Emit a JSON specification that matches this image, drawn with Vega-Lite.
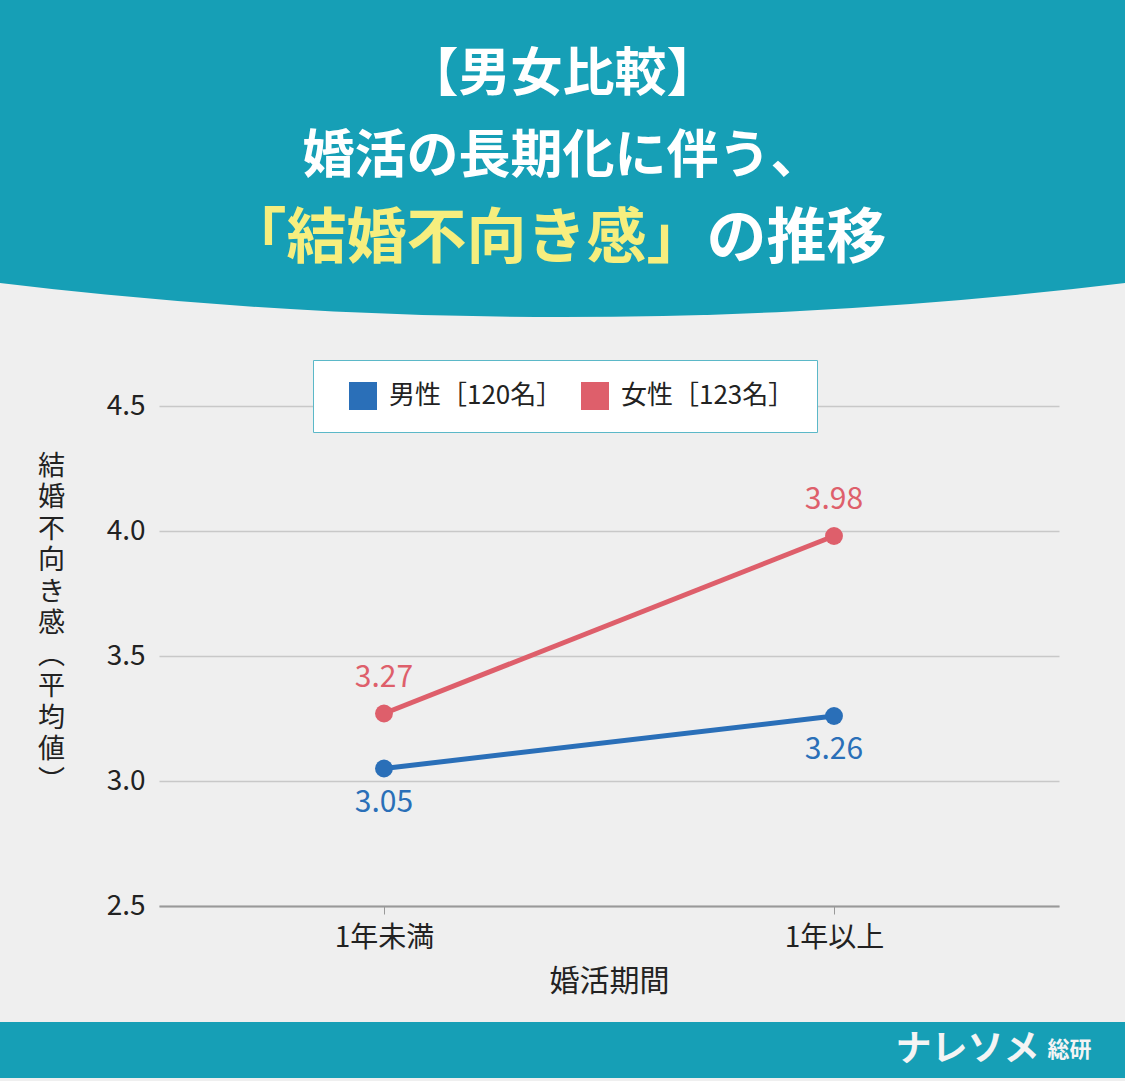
{
  "$schema": "https://vega.github.io/schema/vega-lite/v6.json",
  "padding": 0,
  "background": "#efefef",
  "spacing": 0,
  "config": {
    "view": {"stroke": null},
    "font": "Noto Sans CJK JP",
    "text": {"font": "Noto Sans CJK JP"}
  },
  "datasets": {
    "scores": [
      {"期間": "1年未満", "性別": "男性［120名］", "値": 3.05},
      {"期間": "1年以上", "性別": "男性［120名］", "値": 3.26},
      {"期間": "1年未満", "性別": "女性［123名］", "値": 3.27},
      {"期間": "1年以上", "性別": "女性［123名］", "値": 3.98}
    ]
  },
  "vconcat": [
    {
      "width": 1125,
      "height": 392,
      "data": {"values": [{}]},
      "layer": [
        {
          "mark": {"type": "arc", "radius": 4662, "theta": 0, "theta2": 6.2832, "color": "#169fb6", "clip": true},
          "encoding": {
            "x": {"datum": 0.5, "type": "quantitative", "scale": {"domain": [0, 1]}, "axis": null},
            "y": {"datum": -11.084, "type": "quantitative", "scale": {"domain": [0, 1], "reverse": true}, "axis": null}
          }
        },
        {
          "mark": {"type": "text", "text": "【男女比較】", "fontSize": 52, "fontWeight": "bold", "color": "white", "align": "center", "baseline": "middle", "letterSpacing": 4},
          "encoding": {
            "x": {"datum": 0.5, "type": "quantitative"},
            "y": {"datum": 0.191, "type": "quantitative"}
          }
        },
        {
          "mark": {"type": "text", "text": "婚活の長期化に伴う、", "fontSize": 52, "fontWeight": "bold", "color": "white", "align": "center", "baseline": "middle", "letterSpacing": 3},
          "encoding": {
            "x": {"datum": 0.5, "type": "quantitative"},
            "y": {"datum": 0.401, "type": "quantitative"}
          }
        },
        {
          "mark": {"type": "text", "text": "「結婚不向き感」", "fontSize": 60, "fontWeight": "bold", "color": "#f6ee7e", "align": "right", "baseline": "middle", "letterSpacing": 1},
          "encoding": {
            "x": {"datum": 0.628, "type": "quantitative"},
            "y": {"datum": 0.612, "type": "quantitative"}
          }
        },
        {
          "mark": {"type": "text", "text": "の推移", "fontSize": 60, "fontWeight": "bold", "color": "white", "align": "left", "baseline": "middle", "letterSpacing": 1},
          "encoding": {
            "x": {"datum": 0.628, "type": "quantitative"},
            "y": {"datum": 0.612, "type": "quantitative"}
          }
        }
      ]
    },
    {
      "spacing": 0,
      "hconcat": [
        {
          "width": 37,
          "height": 10,
          "data": {"values": [{}]},
          "mark": {"type": "text", "text": ""}
        },
        {
          "width": 900,
          "height": 500,
          "data": {"name": "scores"},
          "encoding": {
            "x": {
              "field": "期間",
              "type": "nominal",
              "sort": ["1年未満", "1年以上"],
              "scale": {"type": "point", "padding": 0.5},
              "title": "婚活期間",
              "axis": {
                "labelAngle": 0,
                "labelFontSize": 28,
                "labelColor": "#222",
                "titleFontSize": 30,
                "titleFontWeight": "normal",
                "titleColor": "#222",
                "domainColor": "#999",
                "domainWidth": 2,
                "tickColor": "#999",
                "tickSize": 8,
                "labelPadding": 10,
                "titlePadding": 14,
                "grid": false
              }
            },
            "y": {
              "field": "値",
              "type": "quantitative",
              "scale": {"domain": [2.5, 4.5], "nice": false, "zero": false},
              "axis": {
                "values": [2.5, 3, 3.5, 4, 4.5],
                "format": ".1f",
                "labelFontSize": 28,
                "labelColor": "#222",
                "ticks": false,
                "domain": false,
                "gridColor": "#c8c8c8",
                "gridWidth": 1.5,
                "labelPadding": 14,
                "title": ["結", "婚", "不", "向", "き", "感", "︵", "平", "均", "値", "︶"],
                "titleAngle": 0,
                "titleFontSize": 27,
                "titleLineHeight": 31.5,
                "titleFontWeight": "normal",
                "titleColor": "#222",
                "titleAlign": "center",
                "titleBaseline": "middle",
                "titleX": -108,
                "titleY": 60
              }
            },
            "color": {
              "field": "性別",
              "type": "nominal",
              "sort": ["男性［120名］", "女性［123名］"],
              "scale": {"range": ["#2a6fb8", "#de5f6b"]},
              "legend": {
                "orient": "none",
                "legendX": 313,
                "legendY": 360,
                "direction": "horizontal",
                "title": null,
                "fillColor": "white",
                "strokeColor": "#5bb8c8",
                "padding": 22,
                "labelFontSize": 26,
                "labelColor": "#222",
                "labelLimit": 400,
                "symbolType": "square",
                "symbolSize": 784,
                "symbolStrokeWidth": 0,
                "symbolOpacity": 1,
                "symbolOffset": 14,
                "columnPadding": 4,
                "labelOffset": 12
              }
            }
          },
          "layer": [
            {"mark": {"type": "line", "strokeWidth": 5}},
            {"mark": {"type": "point", "filled": true, "size": 320, "opacity": 1}},
            {
              "transform": [{"filter": "datum['性別'] == '女性［123名］'"}],
              "mark": {"type": "text", "dy": -36, "fontSize": 30, "baseline": "middle"},
              "encoding": {"text": {"field": "値", "format": ".2f"}}
            },
            {
              "transform": [{"filter": "datum['性別'] == '男性［120名］'"}],
              "mark": {"type": "text", "dy": 34, "fontSize": 30, "baseline": "middle"},
              "encoding": {"text": {"field": "値", "format": ".2f"}}
            }
          ]
        }
      ]
    },
    {
      "width": 1125,
      "height": 85,
      "data": {"values": [{}]},
      "layer": [
        {
          "mark": {"type": "rect", "color": "#169fb6"},
          "encoding": {
            "x": {"datum": 0, "type": "quantitative", "scale": {"domain": [0, 1]}, "axis": null},
            "x2": {"datum": 1},
            "y": {"datum": 0.306, "type": "quantitative", "scale": {"domain": [0, 1], "reverse": true}, "axis": null},
            "y2": {"datum": 0.965}
          }
        },
        {
          "mark": {"type": "text", "text": "ナレソメ", "fontSize": 36, "fontWeight": "bold", "color": "#f4f4f4", "align": "right", "baseline": "middle", "letterSpacing": 4},
          "encoding": {
            "x": {"datum": 0.924, "type": "quantitative"},
            "y": {"datum": 0.635, "type": "quantitative"}
          }
        },
        {
          "mark": {"type": "text", "text": "総研", "fontSize": 22, "fontWeight": "bold", "color": "#f4f4f4", "align": "left", "baseline": "middle"},
          "encoding": {
            "x": {"datum": 0.931, "type": "quantitative"},
            "y": {"datum": 0.635, "type": "quantitative"}
          }
        }
      ]
    }
  ]
}
